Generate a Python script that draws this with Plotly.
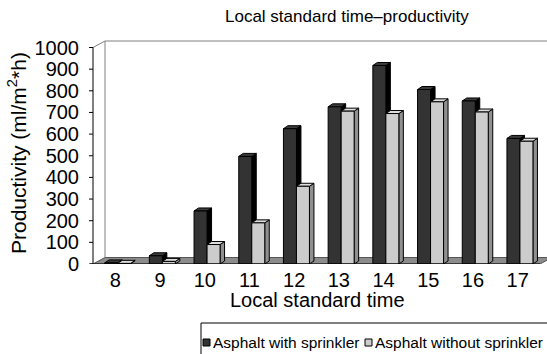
import plotly.graph_objects as go

# ---- data ----
hours = [8, 9, 10, 11, 12, 13, 14, 15, 16, 17]
with_sprinkler = [5, 38, 245, 497, 625, 726, 917, 806, 753, 580]
without_sprinkler = [3, 12, 90, 190, 359, 706, 695, 749, 702, 567]
series_names = ["Asphalt with sprinkler", "Asphalt without sprinkler"]
y_ticks = list(range(0, 1001, 100))
chart_title = "Local standard time\u2013productivity"
x_title = "Local standard time"
y_title = "Productivity (ml/m<sup>2</sup>*h)"

# ---- geometry (pixels) ----
W, H = 547, 354
ML, MT, MB = 88, 39, 90
PLOT_W = W - ML
PLOT_H = H - MT - MB
PX_PER_CAT = 44.7
PX_PER_UNIT = 0.2165
AXIS_GAP = 5
Y_MAX = 1000

x0 = -0.5
x_end = len(hours) - 0.5
x_lo = x0 - AXIS_GAP / PX_PER_CAT
x_hi = x_lo + PLOT_W / PX_PER_CAT
y_hi = PLOT_H / PX_PER_UNIT


def dx(px):
    return px / PX_PER_CAT


def dy(px):
    return px / PX_PER_UNIT


BAR_W = 13
BAR_DX, BAR_DY = 4.5, 3
WALL_DX, WALL_DY = 12, 6.5
FONT = "Liberation Sans, Arial, Helvetica, sans-serif"
LEGEND_FONT = 15.5

fig = go.Figure()


def poly_trace(pts, fill, line_color="black", width=1):
    xs, ys = [], []
    for p in pts:
        if p is None:
            xs.append(None)
            ys.append(None)
        else:
            xs.append(p[0])
            ys.append(p[1])
    return go.Scatter(x=xs, y=ys, mode="lines", fill="toself" if fill else None,
                      fillcolor=fill, line=dict(color=line_color, width=width),
                      hoverinfo="skip", showlegend=False)


def line_trace(xs, ys, color, width=1):
    return go.Scatter(x=xs, y=ys, mode="lines", line=dict(color=color, width=width),
                      hoverinfo="skip", showlegend=False)


# floor
floor = [(x0, 0), (x_end, 0), (x_end + dx(WALL_DX), dy(WALL_DY)),
         (x0 + dx(WALL_DX), dy(WALL_DY)), (x0, 0)]
fig.add_trace(poly_trace(floor, "#8c8c8c", "#555555"))

# back wall and side wall edges
bx = x0 + dx(WALL_DX)
fig.add_trace(line_trace([bx, bx, x_hi + 1], [dy(WALL_DY), Y_MAX + dy(WALL_DY), Y_MAX + dy(WALL_DY)], "#808080"))
fig.add_trace(line_trace([x0, bx], [Y_MAX, Y_MAX + dy(WALL_DY)], "#808080"))


def bar_faces(vals, left_px):
    front, side, top = [], [], []
    ox, oy = dx(BAR_DX), dy(BAR_DY)
    for i, v in enumerate(vals):
        xl = i + dx(left_px)
        xr = xl + dx(BAR_W)
        front += [(xl, 0), (xr, 0), (xr, v), (xl, v), (xl, 0), None]
        side += [(xr, 0), (xr + ox, oy), (xr + ox, v + oy), (xr, v), (xr, 0), None]
        top += [(xl, v), (xr, v), (xr + ox, v + oy), (xl + ox, v + oy), (xl, v), None]
    return front, side, top


series = [
    (with_sprinkler, -10.7, "#333333", "#000000", "#3c3c3c"),
    (without_sprinkler, 2.3, "#cccccc", "#8f8f8f", "#dedede"),
]
for vals, left, c_front, c_side, c_top in series:
    front, side, top = bar_faces(vals, left)
    fig.add_trace(poly_trace(side, c_side))
    fig.add_trace(poly_trace(top, c_top))
    fig.add_trace(poly_trace(front, c_front))

# value axis line with outward ticks
fig.add_trace(line_trace([x0, x0], [0, Y_MAX], "black"))
tx, ty = [], []
for t in y_ticks:
    tx += [x0 - dx(4), x0, None]
    ty += [t, t, None]
fig.add_trace(line_trace(tx, ty, "black"))
# category axis (front edge of the floor)
fig.add_trace(line_trace([x0 - dx(3), x_end], [0, 0], "black"))

fig.update_layout(
    width=W, height=H,
    margin=dict(l=ML, r=0, t=MT, b=MB, pad=0),
    paper_bgcolor="white", plot_bgcolor="white",
    font=dict(family=FONT, color="black"),
    showlegend=False,
    xaxis=dict(range=[x_lo, x_hi], tickvals=list(range(len(hours))),
               ticktext=[str(h) for h in hours], ticks="", showgrid=False,
               zeroline=False, showline=False, tickfont=dict(size=20),
               ticklabelstandoff=2, fixedrange=True),
    yaxis=dict(range=[0, y_hi], tickvals=y_ticks, ticks="", showgrid=False,
               zeroline=False, showline=False, tickfont=dict(size=20),
               ticklabelstandoff=8, fixedrange=True),
)


def px_to_paper(px, py):
    return (px - ML) / PLOT_W, (H - MB - py) / PLOT_H


annotations = []
tx_, ty_ = px_to_paper(347, 16)
annotations.append(dict(text=chart_title, x=tx_, y=ty_, xref="paper", yref="paper",
                        showarrow=False, font=dict(size=17), xanchor="center", yanchor="middle"))
ax_, ay_ = px_to_paper(317, 300)
annotations.append(dict(text=x_title, x=ax_, y=ay_, xref="paper", yref="paper",
                        showarrow=False, font=dict(size=20), xanchor="center", yanchor="middle"))
yx_, yy_ = px_to_paper(17, 153)
annotations.append(dict(text=y_title, x=yx_, y=yy_, xref="paper", yref="paper",
                        showarrow=False, font=dict(size=21), textangle=-90,
                        xanchor="center", yanchor="middle"))

# legend box drawn along the bottom
shapes = []
lx0, ly0 = px_to_paper(201, 323)
lx1, _ = px_to_paper(W + 5, 323)
_, ly1 = px_to_paper(201, H + 5)
shapes.append(dict(type="line", xref="paper", yref="paper", x0=lx0, y0=ly0, x1=lx1, y1=ly0,
                   line=dict(color="black", width=1)))
shapes.append(dict(type="line", xref="paper", yref="paper", x0=lx0, y0=ly0, x1=lx0, y1=ly1,
                   line=dict(color="black", width=1)))
legend_items = [(series_names[0], series[0][2], 203), (series_names[1], series[1][2], 365)]
for name, color, mx in legend_items:
    a0, b0 = px_to_paper(mx, 346)
    a1, b1 = px_to_paper(mx + 7, 339)
    shapes.append(dict(type="rect", xref="paper", yref="paper", x0=a0, y0=b0, x1=a1, y1=b1,
                       fillcolor=color, line=dict(color="black", width=1)))
    ta, tb = px_to_paper(mx + 8, 342)
    annotations.append(dict(text=name, x=ta, y=tb, xref="paper", yref="paper",
                            showarrow=False, font=dict(size=LEGEND_FONT),
                            xanchor="left", yanchor="middle"))

fig.update_layout(annotations=annotations, shapes=shapes)
fig.write_html("out.html")
